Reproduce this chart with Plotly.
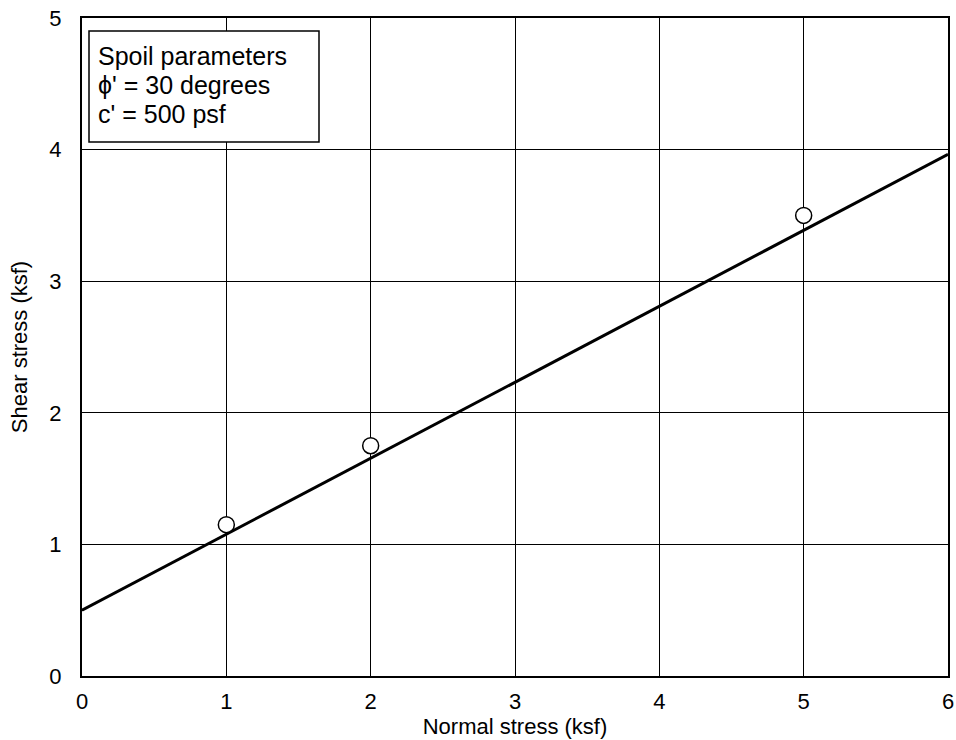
import math
import plotly.graph_objects as go

# Data
normal_stress = [1, 2, 5]
shear_stress = [1.15, 1.75, 3.5]
phi_deg = 30
c_ksf = 0.5
line_x = [0, 6]
line_y = [c_ksf + math.tan(math.radians(phi_deg)) * x for x in line_x]
x_ticks = [0, 1, 2, 3, 4, 5, 6]
y_ticks = [0, 1, 2, 3, 4, 5]
legend_lines = ["Spoil parameters", "\u03d5' = 30 degrees", "c' = 500 psf"]

FONT = "Liberation Sans, Arial, sans-serif"
W, H = 956, 740
ML, MR, MT, MB = 82, 8, 18, 64
PW, PH = W - ML - MR, H - MT - MB


def px_x(p):  # page pixel -> paper coordinate
    return (p - ML) / PW


def px_y(p):
    return (H - MB - p) / PH


fig = go.Figure()
fig.add_trace(go.Scatter(x=line_x, y=line_y, mode="lines",
                         line=dict(color="black", width=3), showlegend=False,
                         hoverinfo="skip"))
fig.add_trace(go.Scatter(x=normal_stress, y=shear_stress, mode="markers",
                         marker=dict(symbol="circle", size=16, color="white",
                                     line=dict(color="black", width=1.5)),
                         showlegend=False, cliponaxis=False))

# Text box
fig.add_shape(type="rect", xref="paper", yref="paper",
              x0=px_x(89), x1=px_x(319), y0=px_y(142), y1=px_y(31),
              line=dict(color="black", width=1.5), fillcolor="white", layer="above")
for i, txt in enumerate(legend_lines):
    fig.add_annotation(xref="paper", yref="paper", x=px_x(97), y=px_y(56 + 29 * i),
                       xanchor="left", yanchor="middle", align="left",
                       text=txt, showarrow=False,
                       font=dict(family=FONT, size=25, color="black"),
                       borderpad=0)

axis_common = dict(showgrid=True, gridcolor="black", gridwidth=1.4,
                   showline=True, linecolor="black", linewidth=2, mirror=True,
                   zeroline=False, ticks="", automargin=False,
                   ticklabeloverflow="allow",
                   tickfont=dict(family=FONT, size=22, color="black"))
fig.update_xaxes(range=[0, 6], tickvals=x_ticks, ticktext=[str(t) for t in x_ticks],
                 ticklabelstandoff=5,
                 title=dict(text="Normal stress (ksf)", standoff=0,
                            font=dict(family=FONT, size=22, color="black")),
                 **axis_common)
fig.update_yaxes(range=[0, 5], tickvals=y_ticks, ticktext=[str(t) for t in y_ticks],
                 ticklabelstandoff=14,
                 title=dict(text="Shear stress (ksf)", standoff=16,
                            font=dict(family=FONT, size=22, color="black")),
                 **axis_common)

fig.update_layout(width=W, height=H, plot_bgcolor="white", paper_bgcolor="white",
                  margin=dict(l=ML, r=MR, t=MT, b=MB, autoexpand=False),
                  font=dict(family=FONT, color="black"))

fig.write_html("out.html", config={"displayModeBar": False},
               post_script="document.body.style.margin='0';document.body.style.overflow='hidden';")
